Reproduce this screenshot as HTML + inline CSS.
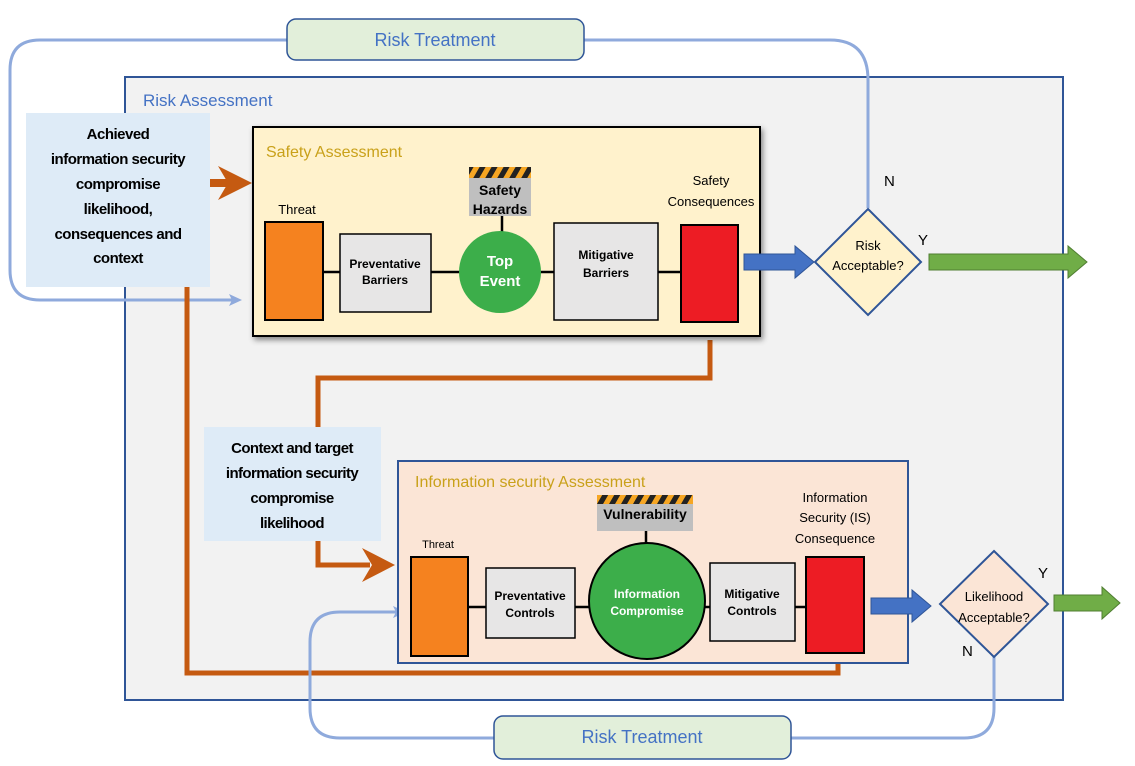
<!DOCTYPE html>
<html><head><meta charset="utf-8"><style>
body{margin:0;background:#fff;}
svg{display:block;font-family:"Liberation Sans",sans-serif;}
.b{font-weight:bold;}
</style></head><body>
<svg width="1135" height="766" viewBox="0 0 1135 766" xmlns="http://www.w3.org/2000/svg">
<defs>
<pattern id="st" width="12" height="10" patternUnits="userSpaceOnUse" patternTransform="skewX(-30)">
<rect width="12" height="10" fill="#f6a623"/><rect width="6" height="10" fill="#222"/></pattern>
<filter id="sh" x="-5%" y="-5%" width="110%" height="115%"><feDropShadow dx="2" dy="3" stdDeviation="3" flood-color="#000" flood-opacity="0.45"/></filter>
</defs>
<!-- Risk assessment -->
<rect x="125" y="77" width="938" height="623" fill="#f2f2f2" stroke="#2f5597" stroke-width="2"/>
<text x="143" y="106" font-size="17" fill="#4472c4">Risk Assessment</text>

<!-- top loop -->
<path d="M287,40 H40 Q10,40 10,70 V270 Q10,300 40,300 H232" fill="none" stroke="#8faadc" stroke-width="3"/>
<polygon points="242,300 229,294 232,300 229,306" fill="#8faadc"/>
<path d="M584,40 H830 Q868,40 868,80 V208" fill="none" stroke="#8faadc" stroke-width="3"/>
<rect x="287" y="19" width="297" height="41" rx="9" fill="#e2efda" stroke="#2f5597" stroke-width="1.5"/>
<text x="435" y="46" font-size="18" fill="#4472c4" text-anchor="middle">Risk Treatment</text>

<!-- brown lines -->
<path d="M187,287 V673 H838 V655" fill="none" stroke="#c55a11" stroke-width="5"/>
<path d="M710,340 V378 H318 V565 H370" fill="none" stroke="#c55a11" stroke-width="5"/>
<polygon points="395,565 362,548 372,565 362,582" fill="#c55a11"/>
<rect x="210" y="179" width="20" height="8" fill="#c55a11"/>
<polygon points="252,183 218,166 228,183 218,200" fill="#c55a11"/>

<!-- left text box -->
<rect x="26" y="113" width="184" height="174" fill="#deebf7"/>
<g font-size="15" class="b" text-anchor="middle" fill="#000" letter-spacing="-0.5">
<text x="118" y="139">Achieved</text>
<text x="118" y="164">information security</text>
<text x="118" y="189">compromise</text>
<text x="118" y="214">likelihood,</text>
<text x="118" y="239">consequences and</text>
<text x="118" y="263">context</text>
</g>

<!-- Safety box -->
<rect x="253" y="127" width="507" height="209" fill="#fff2cc" stroke="#000" stroke-width="2" filter="url(#sh)"/>
<text x="266" y="157" font-size="16" fill="#c9a11a">Safety Assessment</text>
<line x1="323" y1="272" x2="681" y2="272" stroke="#000" stroke-width="2.5"/>
<line x1="502" y1="216" x2="502" y2="232" stroke="#000" stroke-width="2.5"/>
<text x="297" y="214" font-size="13" text-anchor="middle">Threat</text>
<rect x="265" y="222" width="58" height="98" fill="#f5821f" stroke="#000" stroke-width="2"/>
<rect x="340" y="234" width="91" height="78" fill="#e7e6e6" stroke="#000" stroke-width="1.5"/>
<text x="385" y="268" font-size="12" class="b" text-anchor="middle">Preventative</text>
<text x="385" y="284" font-size="12" class="b" text-anchor="middle">Barriers</text>
<circle cx="500" cy="272" r="41" fill="#3cae4a"/>
<text x="500" y="266" font-size="15" class="b" fill="#fff" text-anchor="middle">Top</text>
<text x="500" y="286" font-size="15" class="b" fill="#fff" text-anchor="middle">Event</text>
<rect x="469" y="167" width="62" height="11" fill="url(#st)"/>
<rect x="469" y="178" width="62" height="38" fill="#bfbfbf"/>
<text x="500" y="195" font-size="14" class="b" text-anchor="middle">Safety</text>
<text x="500" y="214" font-size="14" class="b" text-anchor="middle">Hazards</text>
<rect x="554" y="223" width="104" height="97" fill="#e7e6e6" stroke="#000" stroke-width="1.5"/>
<text x="606" y="259" font-size="12" class="b" text-anchor="middle">Mitigative</text>
<text x="606" y="277" font-size="12" class="b" text-anchor="middle">Barriers</text>
<text x="711" y="185" font-size="13" text-anchor="middle">Safety</text>
<text x="711" y="206" font-size="13" text-anchor="middle">Consequences</text>
<rect x="681" y="225" width="57" height="97" fill="#ed1c24" stroke="#000" stroke-width="2"/>

<!-- blue arrow & diamond -->
<polygon points="744,254 795,254 795,246 814,262 795,278 795,270 744,270" fill="#4472c4" stroke="#2f5597"/>
<polygon points="868,209 921,262 868,315 815,262" fill="#fff2cc" stroke="#2f5597" stroke-width="2"/>
<text x="868" y="250" font-size="13" text-anchor="middle">Risk</text>
<text x="868" y="270" font-size="13" text-anchor="middle">Acceptable?</text>
<text x="884" y="186" font-size="15">N</text>
<text x="918" y="245" font-size="15">Y</text>
<polygon points="929,254 1068,254 1068,246 1087,262 1068,278 1068,270 929,270" fill="#70ad47" stroke="#507e32"/>

<!-- second text box -->
<rect x="204" y="427" width="177" height="114" fill="#deebf7"/>
<g font-size="15" class="b" text-anchor="middle" letter-spacing="-0.6">
<text x="292" y="453">Context and target</text>
<text x="292" y="478">information security</text>
<text x="292" y="503">compromise</text>
<text x="292" y="528">likelihood</text>
</g>

<!-- bottom loop -->
<path d="M494,738 H340 Q310,738 310,708 V642 Q310,612 340,612 H396" fill="none" stroke="#8faadc" stroke-width="3"/>
<polygon points="406,612 393,606 396,612 393,618" fill="#8faadc"/>
<path d="M994,657 V708 Q994,738 964,738 H791" fill="none" stroke="#8faadc" stroke-width="3"/>

<!-- IS box -->
<rect x="398" y="461" width="510" height="202" fill="#fbe5d6" stroke="#2f5597" stroke-width="2"/>
<text x="415" y="487" font-size="16" fill="#c9a11a">Information security Assessment</text>
<line x1="468" y1="607" x2="806" y2="607" stroke="#000" stroke-width="2.5"/>
<line x1="646" y1="531" x2="646" y2="543" stroke="#000" stroke-width="2.5"/>
<text x="438" y="548" font-size="11" text-anchor="middle">Threat</text>
<rect x="411" y="557" width="57" height="99" fill="#f5821f" stroke="#000" stroke-width="2"/>
<rect x="486" y="568" width="89" height="70" fill="#e7e6e6" stroke="#000" stroke-width="1.5"/>
<text x="530" y="600" font-size="12" class="b" text-anchor="middle">Preventative</text>
<text x="530" y="617" font-size="12" class="b" text-anchor="middle">Controls</text>
<circle cx="647" cy="601" r="58" fill="#3cae4a" stroke="#000" stroke-width="2"/>
<text x="647" y="598" font-size="12" class="b" fill="#fff" text-anchor="middle">Information</text>
<text x="647" y="615" font-size="12" class="b" fill="#fff" text-anchor="middle">Compromise</text>
<rect x="597" y="495" width="96" height="9" fill="url(#st)"/>
<rect x="597" y="504" width="96" height="27" fill="#bfbfbf"/>
<text x="645" y="519" font-size="14" class="b" text-anchor="middle">Vulnerability</text>
<rect x="710" y="563" width="85" height="78" fill="#e7e6e6" stroke="#000" stroke-width="1.5"/>
<text x="752" y="598" font-size="12" class="b" text-anchor="middle">Mitigative</text>
<text x="752" y="615" font-size="12" class="b" text-anchor="middle">Controls</text>
<text x="835" y="502" font-size="13" text-anchor="middle">Information</text>
<text x="835" y="522" font-size="13" text-anchor="middle">Security (IS)</text>
<text x="835" y="543" font-size="13" text-anchor="middle">Consequence</text>
<rect x="806" y="557" width="58" height="96" fill="#ed1c24" stroke="#000" stroke-width="2"/>

<polygon points="871,598 912,598 912,590 931,606 912,622 912,614 871,614" fill="#4472c4" stroke="#2f5597"/>
<polygon points="994,551 1048,604 994,657 940,604" fill="#fbe5d6" stroke="#2f5597" stroke-width="2"/>
<text x="994" y="601" font-size="13" text-anchor="middle">Likelihood</text>
<text x="994" y="622" font-size="13" text-anchor="middle">Acceptable?</text>
<text x="1038" y="578" font-size="15">Y</text>
<text x="962" y="656" font-size="15">N</text>
<polygon points="1054,595 1102,595 1102,587 1120,603 1102,619 1102,611 1054,611" fill="#70ad47" stroke="#507e32"/>

<rect x="494" y="716" width="297" height="43" rx="9" fill="#e2efda" stroke="#2f5597" stroke-width="1.5"/>
<text x="642" y="743" font-size="18" fill="#4472c4" text-anchor="middle">Risk Treatment</text>
</svg>
</body></html>
